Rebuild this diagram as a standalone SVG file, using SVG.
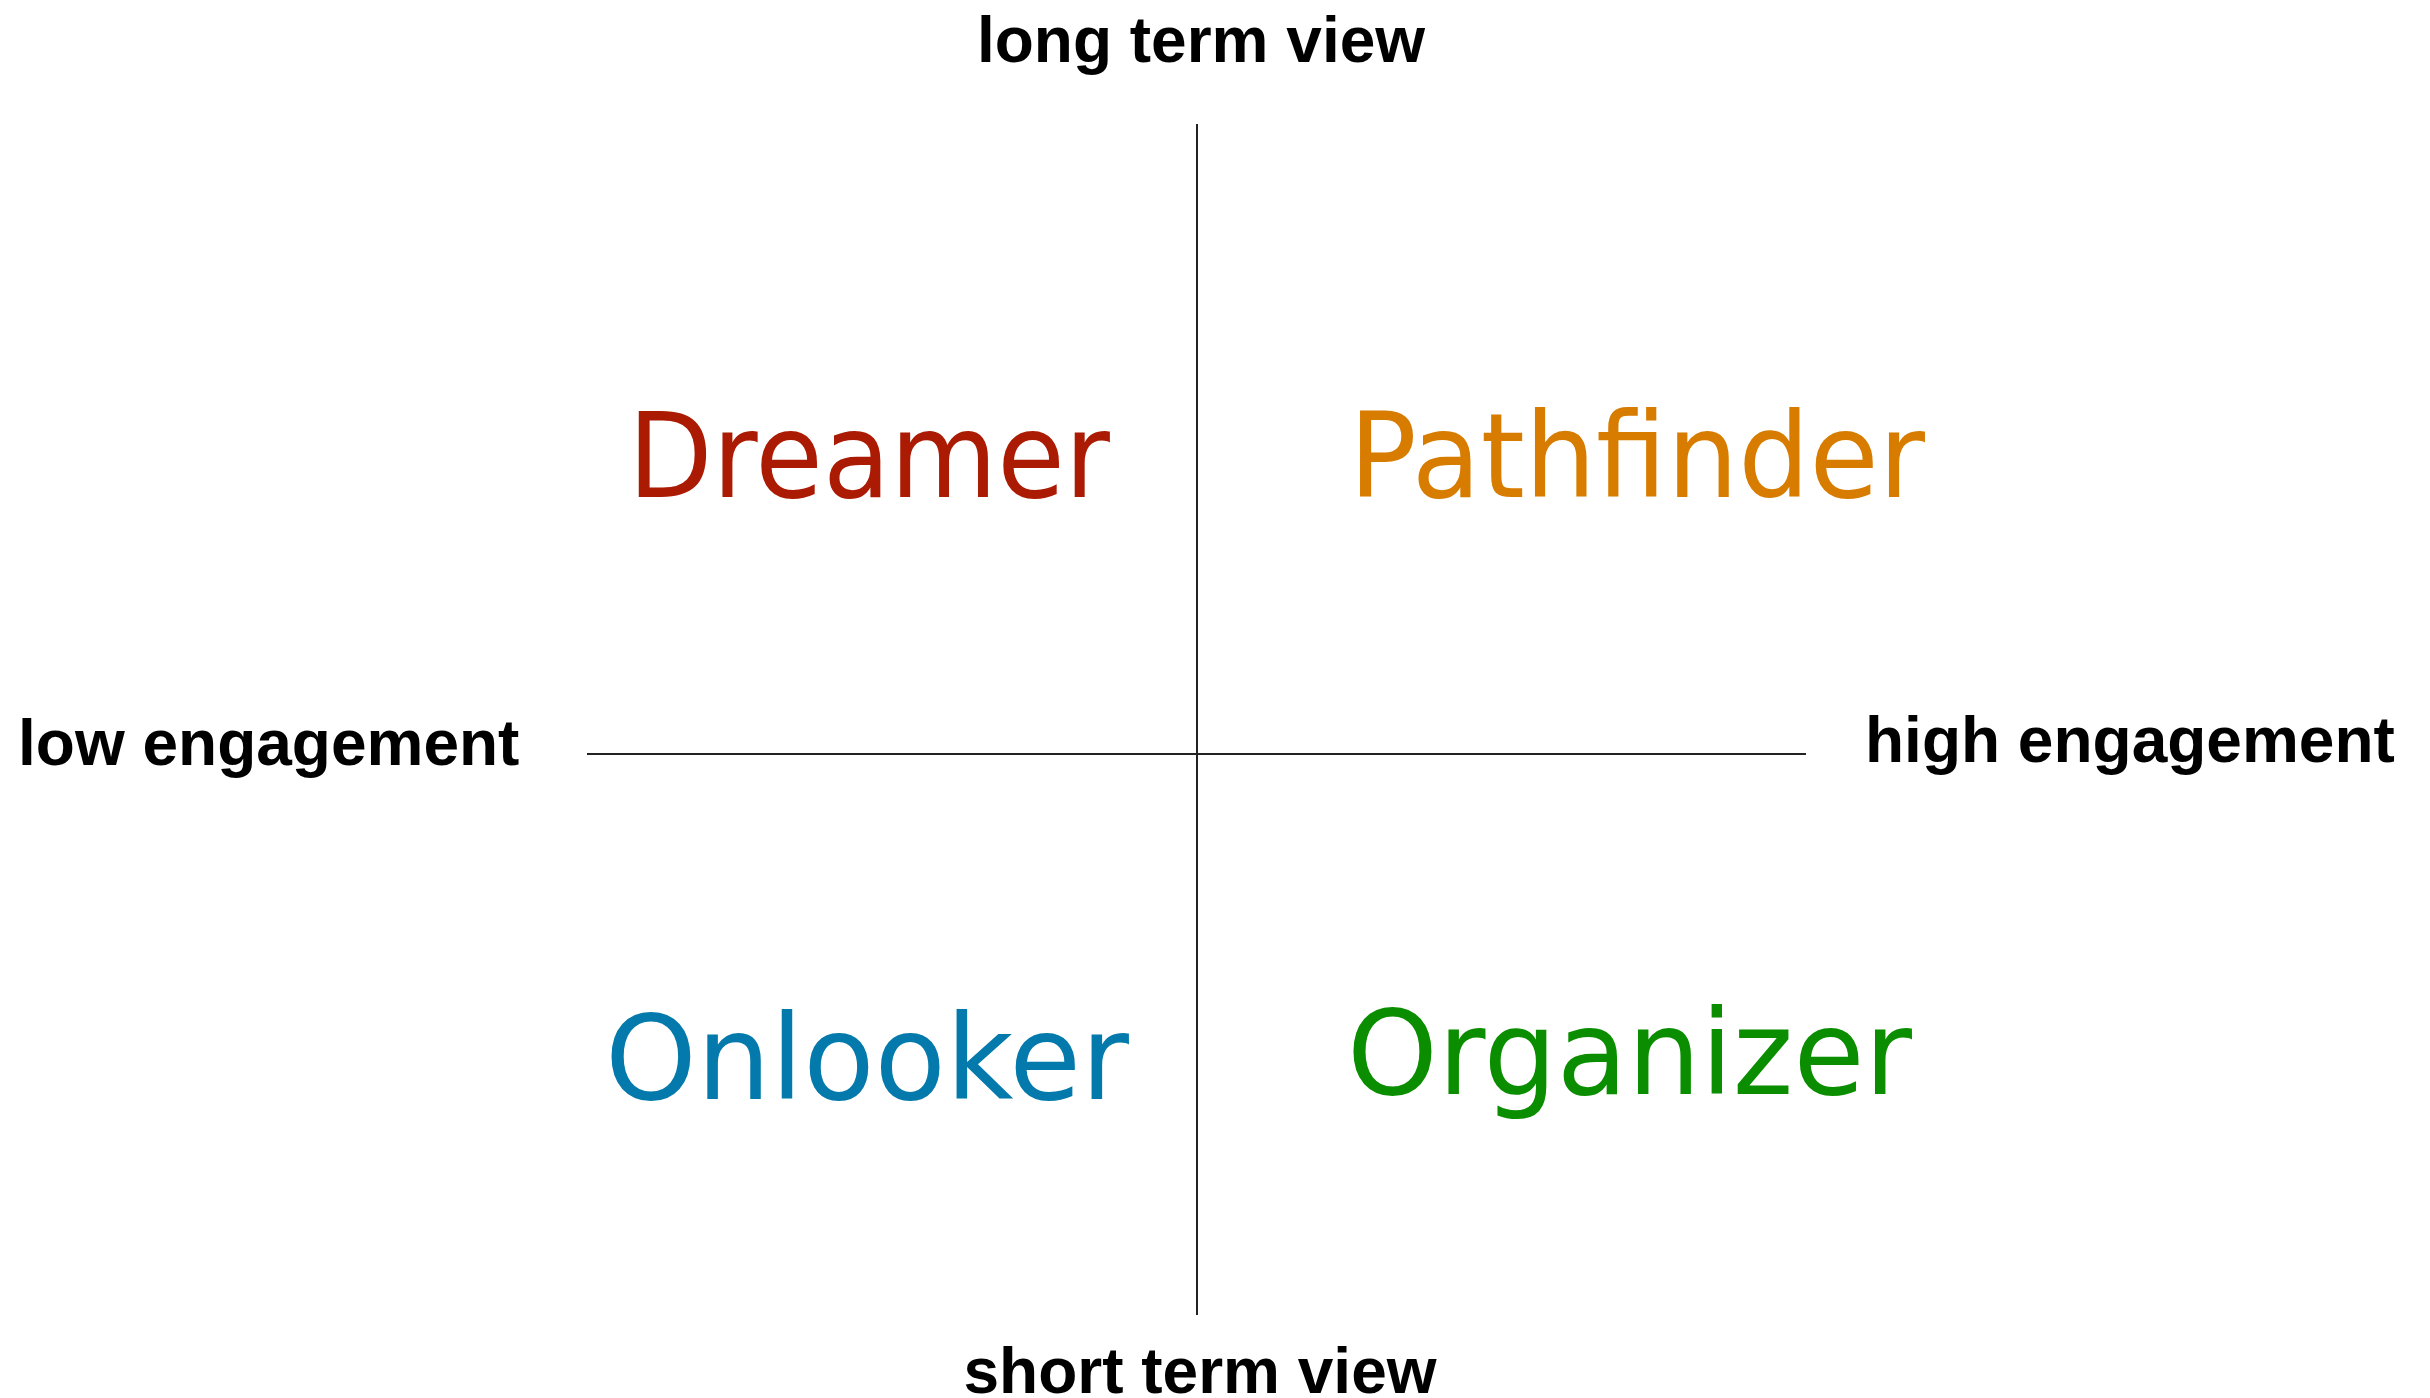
<svg xmlns="http://www.w3.org/2000/svg" width="2430" height="1398" viewBox="0 0 2430 1398">
<style>
.axis{font-family:"Liberation Sans",Arial,sans-serif;font-weight:bold;font-size:64px;fill:#000}
.quad{font-family:"DejaVu Sans",sans-serif;font-size:118px}
.ln{stroke:#222;stroke-width:2;fill:none}
</style>
<rect width="2430" height="1398" fill="#fff"/>
<g id="connectors">
<line class="ln" x1="1197" y1="124" x2="1197" y2="1315"/>
<line class="ln" x1="587" y1="754" x2="1806" y2="754"/>
</g>
<g id="long-term"><text class="axis" x="1201" y="62" text-anchor="middle" font-size="62.5">long term view</text></g>
<g id="short-term"><text class="axis" x="1200" y="1393" text-anchor="middle" font-size="63">short term view</text></g>
<g id="low-engagement"><text class="axis" x="18" y="765">low engagement</text></g>
<g id="high-engagement"><text class="axis" x="1865" y="762">high engagement</text></g>
<g id="dreamer"><text class="quad" x="628" y="497" fill="#ab1a02" textLength="482" lengthAdjust="spacingAndGlyphs">Dreamer</text></g>
<g id="pathfinder"><text class="quad" x="1349" y="497" fill="#d87c00" textLength="576" lengthAdjust="spacingAndGlyphs">Pathfinder</text></g>
<g id="onlooker"><text class="quad" x="605" y="1099" fill="#037aab" textLength="524" lengthAdjust="spacingAndGlyphs">Onlooker</text></g>
<g id="organizer"><text class="quad" x="1347" y="1094" fill="#0a8e00" textLength="565" lengthAdjust="spacingAndGlyphs">Organizer</text></g>
</svg>
